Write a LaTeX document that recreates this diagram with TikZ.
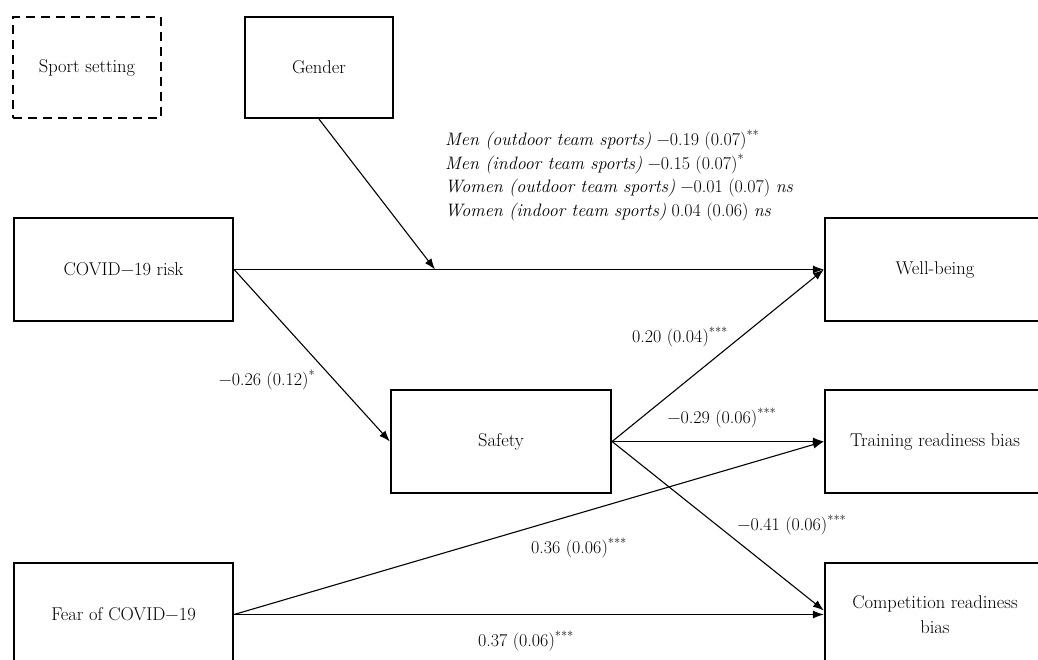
\documentclass[tikz,border=0pt]{standalone}
\usepackage{fontspec}
\usetikzlibrary{arrows.meta}
\tikzset{
  txt/.style={font=\fontsize{18}{22}\selectfont, inner sep=0pt},
  box/.style={draw, line width=2.2pt, rectangle, inner sep=2pt, align=center,
              font=\fontsize{18.5}{23}\selectfont},
  dbox/.style={box, dashed, dash pattern=on 9pt off 6pt},
  arr/.style={line width=1.1pt, -{Latex[length=11pt,width=8pt]}},
}
\begin{document}
\begin{tikzpicture}[x=1pt,y=-1pt]
\clip (0,0) rectangle (1038,659);
\fill[white] (0,0) rectangle (1038,659);
% boxes
\node[dbox, minimum width=148pt, minimum height=101pt] (sport) at (87,67.5) {Sport setting};
\node[box, minimum width=148pt, minimum height=101pt] (gender) at (319,67.5) {Gender};
\node[box, minimum width=219pt, minimum height=103pt] (risk) at (123.5,269.5) {COVID−19 risk};
\node[box, minimum width=220pt, minimum height=103pt] (well) at (935,269.5) {Well-being};
\node[box, minimum width=220pt, minimum height=103pt] (safety) at (501,441.5) {Safety};
\node[box, minimum width=220pt, minimum height=103pt] (train) at (935,441.5) {Training readiness bias};
\node[box, minimum width=219pt, minimum height=103pt] (fear) at (123.5,614.5) {Fear of COVID−19};
\node[box, minimum width=220pt, minimum height=103pt] (comp) at (935,614.5) {Competition readiness\\[2pt]bias};
% connectors
\coordinate (mod) at (435,269.5);
\draw[arr] (risk.east) -- (well.west);
\draw[arr] (gender.south) -- (mod);
\draw[arr] (risk.east) -- (safety.west);
\draw[arr] (safety.east) -- (well.west);
\draw[arr] (safety.east) -- (train.west);
\draw[arr] (safety.east) -- ([yshift=4pt]comp.west);
\draw[arr] (fear.east) -- (train.west);
\draw[arr] (fear.east) -- (comp.west);
% labels
\node[txt, anchor=west] (m1) at (445,140) {\textit{Men (outdoor team sports)} −0.19 (0.07)\textsuperscript{**}};
\node[txt, anchor=west] (m2) at (445,164) {\textit{Men (indoor team sports)} −0.15 (0.07)\textsuperscript{*}};
\node[txt, anchor=west] (m3) at (445,188) {\textit{Women (outdoor team sports)} −0.01 (0.07) \textit{ns}};
\node[txt, anchor=west] (m4) at (445,212) {\textit{Women (indoor team sports)} 0.04 (0.06) \textit{ns}};
\node[txt] (l1) at (267,380) {−0.26 (0.12)\textsuperscript{*}};
\node[txt] (l2) at (680,337) {0.20 (0.04)\textsuperscript{***}};
\node[txt] (l3) at (722,418) {−0.29 (0.06)\textsuperscript{***}};
\node[txt] (l4) at (792,525) {−0.41 (0.06)\textsuperscript{***}};
\node[txt] (l5) at (579,548) {0.36 (0.06)\textsuperscript{***}};
\node[txt] (l6) at (526,641) {0.37 (0.06)\textsuperscript{***}};
\end{tikzpicture}
\end{document}
